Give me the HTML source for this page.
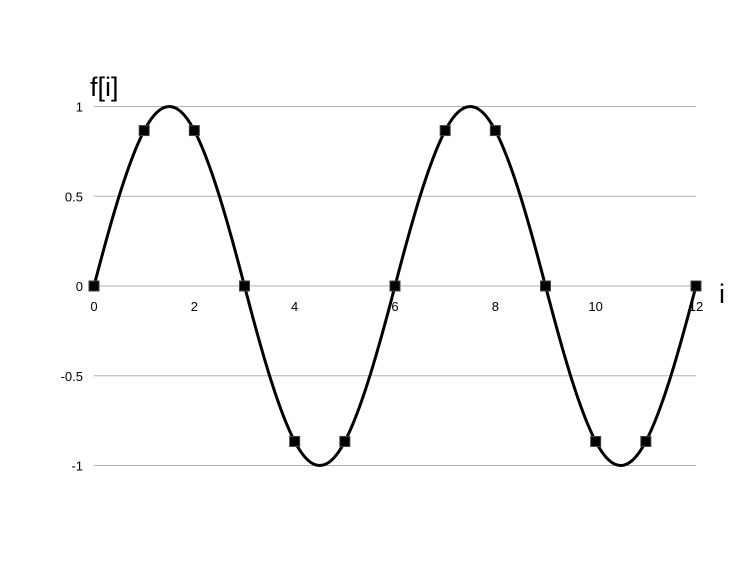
<!DOCTYPE html>
<html><head><meta charset="utf-8"><style>
body{margin:0;background:#fff;}
svg{display:block;font-family:"Liberation Sans",sans-serif;}
</style></head><body>
<svg id="chart" width="756" height="567" viewBox="0 0 756 567">
<rect width="756" height="567" fill="#fff"/>
<g id="grid"></g><g id="labels"></g><g id="series"></g>
<text x="90" y="96" font-size="27">f[i]</text>
<text x="719" y="303" font-size="27">i</text>
</svg>
<script>
const xs=[0,1,2,3,4,5,6,7,8,9,10,11,12];
const ys=[0,0.866,0.866,0,-0.866,-0.866,0,0.866,0.866,0,-0.866,-0.866,0];
const yTicks=[1,0.5,0,-0.5,-1];
const yTickLabels=["1","0.5","0","-0.5","-1"];
const xTicks=[0,2,4,6,8,10,12];
const xTickLabels=["0","2","4","6","8","10","12"];
const NS="http://www.w3.org/2000/svg";
const X=v=>94+v*(696-94)/12;
const Y=v=>286-v*179.5;
function mk(t,a,p){const e=document.createElementNS(NS,t);for(const k in a)e.setAttribute(k,a[k]);p.appendChild(e);return e;}
const grid=document.getElementById('grid'),labels=document.getElementById('labels'),series=document.getElementById('series');
yTicks.forEach((v,i)=>{
 const l=mk('line',{x1:X(0),x2:X(12),y1:Y(v),y2:Y(v),stroke:'#b3b3b3','stroke-width':1},grid);
 
 
 const t=mk('text',{x:83,y:Y(v)+5,'font-size':13,'text-anchor':'end'},labels);
 t.textContent=yTickLabels[i];
 
 
});
xTicks.forEach((v,i)=>{
 const t=mk('text',{x:X(v),y:Y(0)+25,'font-size':13,'text-anchor':'middle'},labels);
 t.textContent=xTickLabels[i];
 
 
});
const K=1.24;
let d=`M${X(xs[0])},${Y(ys[0])}`;
for(let i=0;i<xs.length-1;i++){
 const p0=i>0?i-1:i,p3=i+2<xs.length?i+2:i+1;
 const t1=K*(ys[i+1]-ys[p0])/(xs[i+1]-xs[p0]),t2=K*(ys[p3]-ys[i])/(xs[p3]-xs[i]);
 const h=xs[i+1]-xs[i];
 d+=` C${X(xs[i]+h/3)},${Y(ys[i]+t1*h/3)} ${X(xs[i+1]-h/3)},${Y(ys[i+1]-t2*h/3)} ${X(xs[i+1])},${Y(ys[i+1])}`;
}
const path=mk('path',{d:d,fill:'none',stroke:'#000','stroke-width':3},series);


xs.forEach((x,i)=>{
 const r=mk('rect',{x:X(x)-5,y:Y(ys[i])-5,width:10,height:10,fill:'#000',stroke:'#444','stroke-width':1},series);
 
 
});
</script>
</body></html>
